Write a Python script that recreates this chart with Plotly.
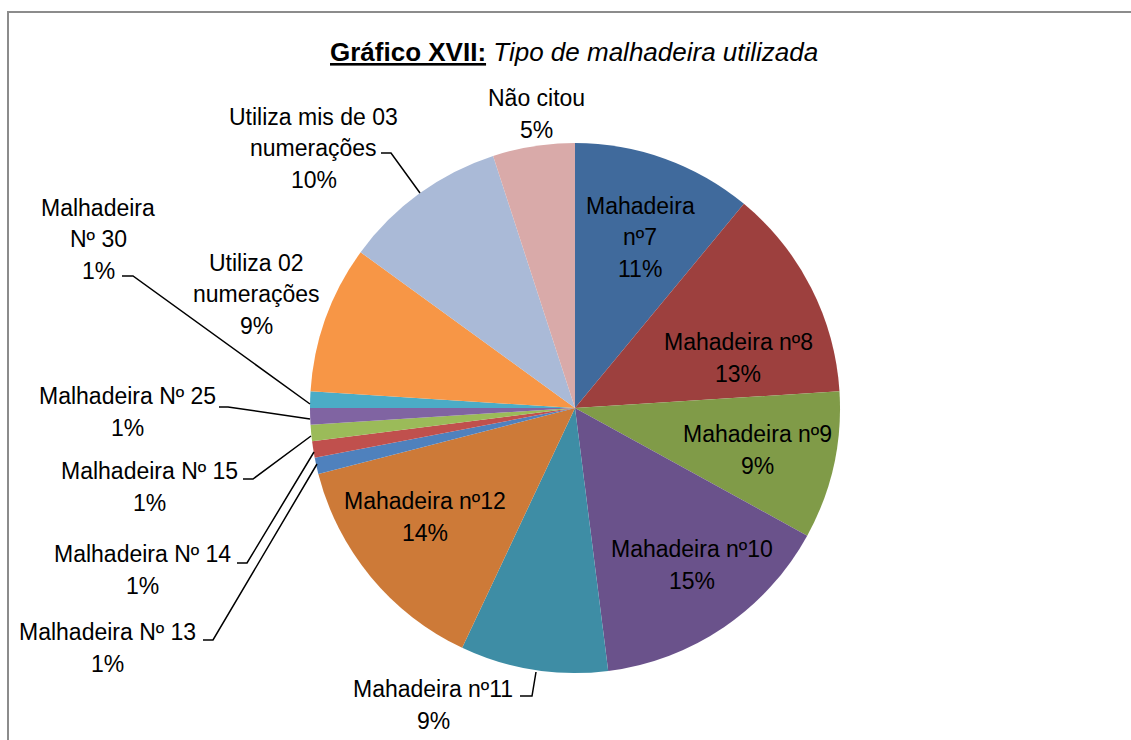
import plotly.graph_objects as go

W, H = 1131, 740

labels = ["Mahadeira nº7", "Mahadeira nº8", "Mahadeira nº9", "Mahadeira nº10",
          "Mahadeira nº11", "Mahadeira nº12", "Malhadeira Nº 13", "Malhadeira Nº 14",
          "Malhadeira Nº 15", "Malhadeira Nº 25", "Malhadeira Nº 30",
          "Utiliza 02 numerações", "Utiliza mis de 03 numerações", "Não citou"]
values = [11, 13, 9, 15, 9, 14, 1, 1, 1, 1, 1, 9, 10, 5]
colors = ["#406A9C", "#9D403E", "#809B48", "#6A528B", "#3E8DA5", "#CD7A38",
          "#4F81BD", "#C0504D", "#9BBB59", "#8064A2", "#4BACC6", "#F79646",
          "#AABAD7", "#D9AAA9"]
label_lines = [["Mahadeira", "nº7"], ["Mahadeira nº8"], ["Mahadeira nº9"], ["Mahadeira nº10"],
               ["Mahadeira nº11"], ["Mahadeira nº12"], ["Malhadeira Nº 13"], ["Malhadeira Nº 14"],
               ["Malhadeira Nº 15"], ["Malhadeira Nº 25"], ["Malhadeira", "Nº 30"],
               ["Utiliza 02", "numerações"], ["Utiliza mis de 03", "numerações"], ["Não citou"]]
# label block centres (pixels)
label_pos = [(640, 237), (738, 358), (757, 450), (692, 565), (433, 705), (425, 517),
             (108, 648), (142, 570), (149, 487), (127, 412), (98, 239), (256, 294),
             (314, 148), (536, 114)]
LINE_H = 31.5
# leader lines (pixels)
leaders = {
    4: [(520, 696), (532, 696), (536, 672)],
    6: [(203, 640), (213, 640), (317, 464)],
    7: [(237, 563), (247, 563), (314, 452)],
    8: [(243, 479), (253, 479), (311, 436)],
    9: [(219, 407), (228, 407), (310, 419)],
    10: [(122, 276), (133, 276), (310, 404)],
    12: [(381, 153), (391, 153), (420, 193)],
}

FONT = "Arial, Liberation Sans, sans-serif"

def px(x):
    return x / W

def py(y):
    return 1 - y / H

cx, cy, r = 575, 408, 265

fig = go.Figure(go.Pie(
    labels=labels, values=values, sort=False, direction="clockwise", rotation=0,
    marker=dict(colors=colors, line=dict(width=0)),
    textinfo="none", hoverinfo="label+percent",
    domain=dict(x=[px(cx - r), px(cx + r)], y=[py(cy + r), py(cy - r)]),
))

total = sum(values)
annotations = []
for i, (lines, v) in enumerate(zip(label_lines, values)):
    pct = round(100 * v / total)
    all_lines = lines + [f"{pct}%"]
    n = len(all_lines)
    x, y = label_pos[i]
    for k, t in enumerate(all_lines):
        ly = y + (k - (n - 1) / 2) * LINE_H
        annotations.append(dict(
            x=px(x), y=py(ly), xref="paper", yref="paper", showarrow=False,
            text=t, align="center", xanchor="center", yanchor="middle",
            font=dict(family=FONT, size=23, color="black")))

annotations.append(dict(
    x=px(574), y=py(52), xref="paper", yref="paper", showarrow=False,
    text="<b><u>Gráfico XVII:</u></b> <i>Tipo de malhadeira utilizada</i>",
    xanchor="center", yanchor="middle",
    font=dict(family=FONT, size=26, color="black")))

shapes = []
for pts in leaders.values():
    path = "M " + " L ".join(f"{px(x)},{py(y)}" for x, y in pts)
    shapes.append(dict(type="path", path=path, xref="paper", yref="paper",
                       line=dict(color="black", width=1.5)))
# chart border
shapes.append(dict(type="path", xref="paper", yref="paper",
                   path=f"M {px(8)},{py(745)} L {px(8)},{py(12)} L {px(1135)},{py(12)}",
                   line=dict(color="#8C8C8C", width=2)))

fig.update_layout(
    width=W, height=H, margin=dict(l=0, r=0, t=0, b=0),
    paper_bgcolor="white", plot_bgcolor="white", showlegend=False,
    annotations=annotations, shapes=shapes,
)

fig.write_html("out.html", config={"displayModeBar": False},
               post_script="document.body.style.margin='0';document.body.style.overflow='hidden';")
